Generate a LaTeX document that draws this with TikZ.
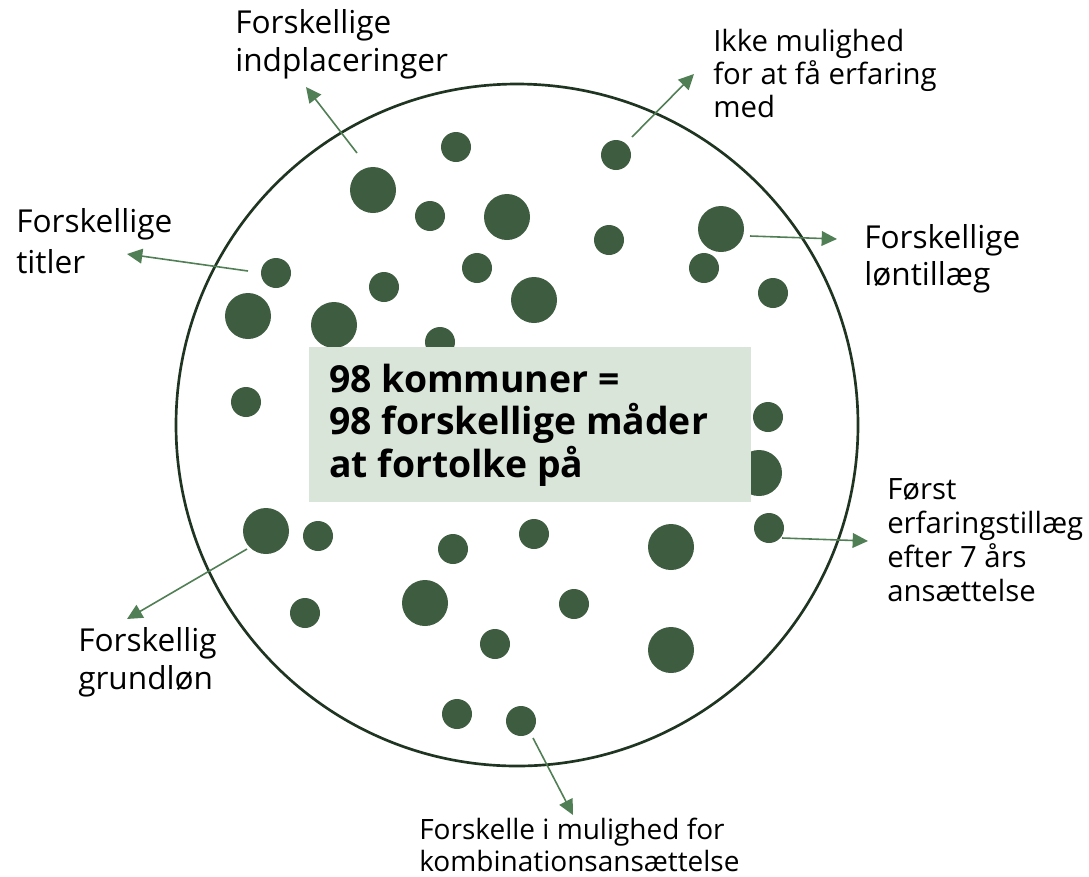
\documentclass[tikz,border=0pt]{standalone}
\usepackage{fontspec}
\setmainfont{Open Sans}
\usetikzlibrary{arrows.meta}
\definecolor{dotgreen}{HTML}{3E5C3F}
\definecolor{ringgreen}{HTML}{1F3522}
\definecolor{arrowgreen}{HTML}{517F55}
\definecolor{boxgreen}{HTML}{DAE5DA}
\newcommand{\fstrut}{\rule{0pt}{0.85em}}
\begin{document}
\begin{tikzpicture}[x=0.75pt,y=-0.75pt,
  dotS/.style={circle,fill=dotgreen,inner sep=0pt,minimum size=22.5pt},
  dotL/.style={circle,fill=dotgreen,inner sep=0pt,minimum size=34.5pt},
  lbl/.style={anchor=north west,inner sep=0pt,align=left,text=black},
  big/.style={font={\fontsize{23.7}{28.5}\selectfont\lineskiplimit=-20pt}},
  arr/.style={draw=arrowgreen,line width=1.2pt,-{Triangle[length=11.5pt,width=11pt]},arrowgreen}]
\useasboundingbox (0,0) rectangle (1089,876);
% ring
\node[circle,draw=ringgreen,line width=2pt,minimum size=511.5pt,inner sep=0pt] (ring) at (517,425) {};
% dots
\node[dotS] (d1) at (456,147) {};
\node[dotS] (d2) at (616,155) {};
\node[dotL] (d3) at (373,190) {};
\node[dotS] (d4) at (430,216) {};
\node[dotL] (d5) at (507,217) {};
\node[dotS] (d6) at (609,240) {};
\node[dotL] (d7) at (721,229) {};
\node[dotS] (d8) at (276,273) {};
\node[dotS] (d9) at (477,268) {};
\node[dotS] (d10) at (704,268) {};
\node[dotS] (d11) at (384,287) {};
\node[dotL] (d12) at (534,300) {};
\node[dotS] (d13) at (773,293) {};
\node[dotL] (d14) at (248,316) {};
\node[dotL] (d15) at (334,325) {};
\node[dotS] (d16) at (440,342) {};
\node[dotS] (d17) at (246,402) {};
\node[dotS] (d18) at (768,417) {};
\node[dotL] (d19) at (759,473) {};
\node[dotL] (d20) at (266,531) {};
\node[dotS] (d21) at (318,536) {};
\node[dotS] (d22) at (534,534) {};
\node[dotS] (d23) at (453,549) {};
\node[dotL] (d24) at (671,547) {};
\node[dotS] (d25) at (769,528) {};
\node[dotS] (d26) at (305,613) {};
\node[dotL] (d27) at (425,603) {};
\node[dotS] (d28) at (574,604) {};
\node[dotS] (d29) at (495,644) {};
\node[dotL] (d30) at (671,650) {};
\node[dotS] (d31) at (457,714) {};
\node[dotS] (d32) at (521,721) {};
% central box
\node[fill=boxgreen,anchor=north west,inner sep=0pt,minimum width=331.5pt,minimum height=116.25pt] (box) at (309,347) {};
\node[lbl,font={\fontsize{28}{32.2}\selectfont\bfseries\lineskiplimit=-20pt}] (title) at (329,360)
  {\fstrut 98 kommuner =\\98 forskellige måder\\at fortolke på};
% labels
\node[lbl,big] (l1) at (235,6.5) {\fstrut Forskellige\\indplaceringer};
\node[lbl,font={\fontsize{22}{25}\selectfont\lineskiplimit=-20pt}] (l2) at (713,26) {\fstrut Ikke mulighed\\for at få erfaring\\med};
\node[lbl,font={\fontsize{23.7}{28}\selectfont\lineskiplimit=-20pt}] (l3) at (864,221.5) {\fstrut Forskellige\\løntillæg};
\node[lbl,font={\fontsize{23.7}{31}\selectfont\lineskiplimit=-20pt}] (l4) at (16,205) {\fstrut Forskellige\\titler};
\node[lbl,font={\fontsize{22}{25.5}\selectfont\lineskiplimit=-20pt}] (l5) at (887,474) {\fstrut Først\\erfaringstillæg\\efter 7 års\\ansættelse};
\node[lbl,big] (l6) at (78,624) {\fstrut Forskellig\\grundløn};
\node[lbl,font={\fontsize{21}{24}\selectfont\lineskiplimit=-20pt}] (l7) at (419,815) {\fstrut Forskelle i mulighed for\\kombinationsansættelse};
% arrows
\coordinate (a1s) at (357,153); \coordinate (a1e) at (306,87);
\coordinate (a2s) at (632,137); \coordinate (a2e) at (694,74);
\coordinate (a3s) at (750,236); \coordinate (a3e) at (837,239);
\coordinate (a4s) at (248,271); \coordinate (a4e) at (127,254);
\coordinate (a5s) at (782,538); \coordinate (a5e) at (868,541);
\coordinate (a6s) at (247,549); \coordinate (a6e) at (127,619);
\coordinate (a7s) at (533,738); \coordinate (a7e) at (573,815);
\draw[arr] (a1s) -- (a1e);
\draw[arr] (a2s) -- (a2e);
\draw[arr] (a3s) -- (a3e);
\draw[arr] (a4s) -- (a4e);
\draw[arr] (a5s) -- (a5e);
\draw[arr] (a6s) -- (a6e);
\draw[arr] (a7s) -- (a7e);
\end{tikzpicture}
\end{document}
